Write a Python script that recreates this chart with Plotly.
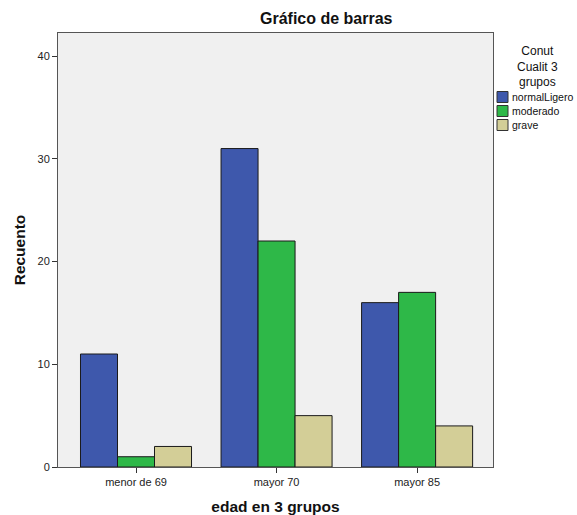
import plotly.graph_objects as go

categories = ["menor de 69", "mayor 70", "mayor 85"]
normal_ligero = [11, 31, 16]
moderado = [1, 22, 17]
grave = [2, 5, 4]
series_names = ["normalLigero", "moderado", "grave"]
colors = ["#3E58AC", "#2EB848", "#D3CE97"]

W, H = 577, 515

fig = go.Figure()
for name, vals, col in zip(series_names, [normal_ligero, moderado, grave], colors):
    fig.add_trace(go.Bar(
        x=categories, y=vals, name=name,
        marker=dict(color=col, line=dict(color="#1a1a1a", width=1)),
        hoverinfo="skip",
    ))

# Manual legend (SPSS style, compact)
shapes = []
annotations = [
    dict(text="Conut<br>Cualit 3<br>grupos", xref="paper", yref="paper",
         x=(537 - 58) / (493 - 58), y=1 - (42 - 33) / (467 - 33),
         xanchor="center", yanchor="top", showarrow=False, align="center",
         font=dict(size=12, color="#111")),
    dict(text="<b>Gráfico de barras</b>", xref="paper", yref="paper",
         x=(326 - 58) / (493 - 58), y=1 + (33 - 18) / (467 - 33),
         xanchor="center", yanchor="middle", showarrow=False,
         font=dict(size=16, color="#111")),
]
for i, (name, col) in enumerate(zip(series_names, colors)):
    cy = 97 + i * 14
    shapes.append(dict(type="rect", xref="paper", yref="paper",
                       x0=(497 - 58) / 435, x1=(508 - 58) / 435,
                       y0=(467 - (cy + 5.5)) / 434, y1=(467 - (cy - 5.5)) / 434,
                       fillcolor=col, line=dict(color="#333", width=1)))
    annotations.append(dict(text=name, xref="paper", yref="paper",
                            x=(510 - 58) / 435, y=(467 - cy) / 434,
                            xanchor="left", yanchor="middle", showarrow=False,
                            font=dict(size=10.5, color="#111")))

fig.update_layout(
    width=W, height=H,
    barmode="group", bargap=0.21, bargroupgap=0,
    paper_bgcolor="white", plot_bgcolor="#F0F0F0",
    margin=dict(l=58, r=84, t=33, b=48, autoexpand=False),
    font=dict(family="Liberation Sans, Arial, sans-serif", size=11, color="#222"),
    showlegend=False,
    hovermode=False,
    shapes=shapes,
    annotations=annotations,
    xaxis=dict(
        range=[-0.555, 2.54],
        showline=True, linecolor="#555", linewidth=1, mirror=True,
        ticks="outside", ticklen=5, tickcolor="#333",
        showgrid=False,
        title=dict(text="<b>edad en 3 grupos</b>", font=dict(size=15.5, color="#111"), standoff=15),
        tickfont=dict(size=11, color="#222"),
    ),
    yaxis=dict(
        range=[0, 42.25],
        tickvals=[0, 10, 20, 30, 40],
        showline=True, linecolor="#555", linewidth=1, mirror=True,
        ticks="outside", ticklen=5, tickcolor="#333",
        showgrid=False, zeroline=False,
        title=dict(text="<b>Recuento</b>", font=dict(size=15.5, color="#111"), standoff=8),
        tickfont=dict(size=11, color="#222"),
    ),
)

fig.write_html("out.html", config={"displayModeBar": False},
               post_script="document.body.style.margin='0';")
